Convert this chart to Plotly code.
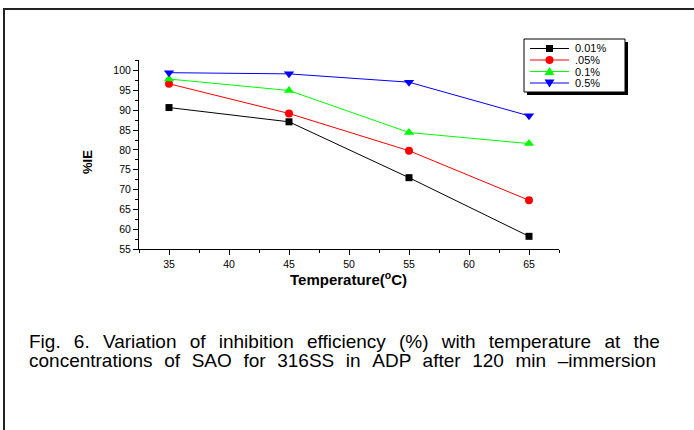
import plotly.graph_objects as go

temps = [35, 45, 55, 65]
ie_001 = [90.7, 87.1, 73.0, 58.2]
ie_005 = [96.7, 89.2, 79.8, 67.3]
ie_01 = [97.9, 95.0, 84.4, 81.6]
ie_05 = [99.5, 99.2, 97.1, 88.6]
series_names = ["0.01%", ".05%", "0.1%", "0.5%"]
caption_1 = "Fig. 6. Variation of inhibition efficiency (%) with temperature at the"
caption_2 = "concentrations of SAO for 316SS in ADP after 120 min \u2013immersion"

W, H = 694, 430
L, R, T, B = 139, 559, 60, 249

def px(x):
    return (x - L) / (R - L)

def py(y):
    return (B - y) / (B - T)

styles = [
    ("black", "square", 7),
    ("red", "circle", 8),
    ("#00ff00", "triangle-up", 9),
    ("blue", "triangle-down", 9),
]

fig = go.Figure()
for name, vals, (col, sym, sz) in zip(series_names, [ie_001, ie_005, ie_01, ie_05], styles):
    fig.add_trace(go.Scatter(
        x=temps, y=vals, name=name, mode="lines+markers", showlegend=False,
        line=dict(color=col, width=1),
        marker=dict(color=col, symbol=sym, size=sz, line=dict(width=0)),
    ))

axis_common = dict(
    showline=True, linecolor="black", linewidth=1,
    ticks="outside", ticklen=5, tickcolor="black", tickwidth=1,
    showgrid=False, zeroline=False,
    tickfont=dict(family="Liberation Sans", size=10.5, color="black"),
)

fig.update_xaxes(range=[32.5, 67.5], tick0=35, dtick=5,
                 minor=dict(ticks="outside", ticklen=3, dtick=2.5, tick0=32.5, tickcolor="black"),
                 **axis_common)
fig.update_yaxes(range=[55, 102.7], tick0=55, dtick=5,
                 minor=dict(ticks="outside", ticklen=3, dtick=2.5, tick0=55, tickcolor="black"),
                 **axis_common)

row_y0, row_dy = 48.5, 11.5
n = len(series_names)
box_top, box_bot = 39, row_y0 + (n - 1) * row_dy + 9

shapes = [
    # page frame
    dict(type="rect", xref="paper", yref="paper",
         x0=px(4), x1=px(W + 20), y0=py(9), y1=py(H + 20),
         line=dict(color="#222", width=2), fillcolor="rgba(0,0,0,0)", layer="below"),
    # legend shadow + box
    dict(type="rect", xref="paper", yref="paper",
         x0=px(527), x1=px(628), y0=py(box_top + 3), y1=py(box_bot + 3),
         line=dict(width=0), fillcolor="black", layer="above"),
    dict(type="rect", xref="paper", yref="paper",
         x0=px(524), x1=px(625), y0=py(box_top), y1=py(box_bot),
         line=dict(color="black", width=1), fillcolor="white", layer="above"),
]

gap1 = " \u2004\u200a"
gap2 = " \u2004"
annotations = [
    dict(text="<b>%IE</b>", xref="paper", yref="paper", x=px(87), y=py(162),
         xanchor="center", yanchor="middle",
         showarrow=False, textangle=-90, font=dict(family="Liberation Sans", size=13, color="black")),
    dict(text="<b>Temperature(<sup>o</sup>C)</b>", xref="paper", yref="paper", x=px(348), y=py(278),
         xanchor="center", yanchor="middle",
         showarrow=False, font=dict(family="Liberation Sans", size=15, color="black")),
    dict(text=caption_1.replace(" ", gap1), xref="paper", yref="paper", x=px(27), y=py(341),
         xanchor="left", yanchor="middle",
         showarrow=False, font=dict(family="Liberation Sans", size=19, color="black")),
    dict(text=caption_2.replace(" ", gap2), xref="paper", yref="paper", x=px(27), y=py(360),
         xanchor="left", yanchor="middle",
         showarrow=False, font=dict(family="Liberation Sans", size=19, color="black")),
]

# custom compact legend
ms = 3.5
for i, (name, (col, sym, sz)) in enumerate(zip(series_names, styles)):
    yy = row_y0 + i * row_dy
    shapes.append(dict(type="line", xref="paper", yref="paper",
                       x0=px(530), x1=px(569), y0=py(yy), y1=py(yy),
                       line=dict(color=col, width=1), layer="above"))
    cx = 549.5
    if sym == "square":
        shapes.append(dict(type="rect", xref="paper", yref="paper",
                           x0=px(cx - ms), x1=px(cx + ms), y0=py(yy - ms), y1=py(yy + ms),
                           line=dict(width=0), fillcolor=col, layer="above"))
    elif sym == "circle":
        shapes.append(dict(type="circle", xref="paper", yref="paper",
                           x0=px(cx - 4), x1=px(cx + 4), y0=py(yy - 4), y1=py(yy + 4),
                           line=dict(width=0), fillcolor=col, layer="above"))
    else:
        up = sym == "triangle-up"
        tip = yy - 4.5 if up else yy + 4.5
        base = yy + 3.5 if up else yy - 3.5
        path = "M {} {} L {} {} L {} {} Z".format(
            px(cx), py(tip), px(cx - 5), py(base), px(cx + 5), py(base))
        shapes.append(dict(type="path", xref="paper", yref="paper", path=path,
                           line=dict(width=0), fillcolor=col, layer="above"))
    annotations.append(dict(text=name, xref="paper", yref="paper", x=px(574), y=py(yy),
                            xanchor="left", yanchor="middle", showarrow=False, borderpad=0,
                            font=dict(family="Liberation Sans", size=11, color="black")))

fig.update_layout(
    width=W, height=H,
    margin=dict(l=L, r=W - R, t=T, b=H - B),
    paper_bgcolor="white", plot_bgcolor="white",
    showlegend=False,
    shapes=shapes, annotations=annotations,
)

fig.write_html("out.html")
